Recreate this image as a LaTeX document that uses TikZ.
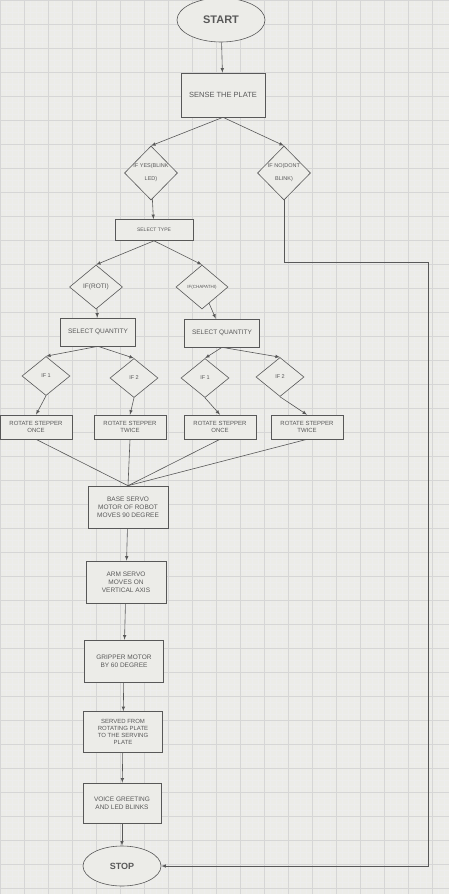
\documentclass[tikz,border=0pt]{standalone}
\usepackage{fontspec}
\setmainfont{Liberation Sans}
\usetikzlibrary{shapes.geometric}
\definecolor{paper}{RGB}{236,236,232}
\definecolor{ink}{RGB}{88,88,88}

\begin{document}
\begin{tikzpicture}[->,>=latex,x=1pt,y=-1pt,color=ink,line width=.6pt,
   box/.style={draw,fill=paper,align=center,inner sep=1pt,font=\fontsize{6}{7}\selectfont},
   dia/.style={draw,fill=paper,diamond,align=center,inner sep=-4pt,font=\fontsize{5.5}{13}\selectfont},
   term/.style={draw,fill=paper,ellipse,inner sep=0pt,font=\bfseries\fontsize{11}{12}\selectfont}]
   \useasboundingbox[fill=paper] (0,0) rectangle (449,894);
   \begin{scope}[y=1pt]
      \draw[-,gray!14,line width=.3pt,step=6] (0,-894) grid (449,0);
      \draw[-,gray!32,line width=.4pt,step=24] (0,-894) grid (449,0);
   \end{scope}
   \node[term,minimum width=88pt,minimum height=44pt] (start) at (221,20) {START};
   \node[box,minimum width=84pt,minimum height=44pt,font=\fontsize{7.5}{9}\selectfont] (sense) at (223,95) {SENSE THE PLATE};
   \node[dia,minimum width=53pt,minimum height=54pt] (yes) at (151,173) {IF YES(BLINK\\LED)};
   \node[dia,minimum width=53pt,minimum height=54pt] (no) at (284,173) {IF NO(DONT\\BLINK)};
   \node[box,minimum width=78pt,minimum height=21pt,font=\fontsize{5}{6}\selectfont] (type) at (154,230) {SELECT TYPE};
   \node[dia,minimum width=53pt,minimum height=44pt,font=\fontsize{6.5}{7}\selectfont] (roti) at (96,287) {IF(ROTI)};
   \node[dia,minimum width=52pt,minimum height=44pt,font=\fontsize{4.5}{5}\selectfont] (chapathi) at (202,287) {IF(CHAPATHI)};
   \node[box,minimum width=75pt,minimum height=28pt,font=\fontsize{6.5}{7}\selectfont] (qa) at (98,332) {SELECT QUANTITY};
   \node[box,minimum width=75pt,minimum height=28pt,font=\fontsize{6.5}{7}\selectfont] (qb) at (222,333) {SELECT QUANTITY};
   \node[dia,minimum width=48pt,minimum height=39pt] (qaone) at (46,376) {IF 1};
   \node[dia,minimum width=48pt,minimum height=39pt] (qatwo) at (134,378) {IF 2};
   \node[dia,minimum width=48pt,minimum height=39pt] (qbone) at (205,378) {IF 1};
   \node[dia,minimum width=48pt,minimum height=39pt] (qbtwo) at (280,377) {IF 2};
   \node[box,minimum width=72pt,minimum height=24pt] (ra) at (36,427) {ROTATE STEPPER\\ONCE};
   \node[box,minimum width=72pt,minimum height=24pt] (rb) at (130,427) {ROTATE STEPPER\\TWICE};
   \node[box,minimum width=72pt,minimum height=24pt] (rc) at (220,427) {ROTATE STEPPER\\ONCE};
   \node[box,minimum width=72pt,minimum height=24pt] (rd) at (307,427) {ROTATE STEPPER\\TWICE};
   \node[box,minimum width=80pt,minimum height=42pt,font=\fontsize{6.5}{8}\selectfont] (base) at (128,507) {BASE SERVO\\MOTOR OF ROBOT\\MOVES 90 DEGREE};
   \node[box,minimum width=80pt,minimum height=42pt,font=\fontsize{6.5}{8}\selectfont] (arm) at (126,582) {ARM SERVO\\MOVES ON\\VERTICAL AXIS};
   \node[box,minimum width=79pt,minimum height=42pt,font=\fontsize{6.5}{8}\selectfont] (grip) at (124,661) {GRIPPER MOTOR\\BY 60 DEGREE};
   \node[box,minimum width=79pt,minimum height=41pt,font=\fontsize{6}{6.8}\selectfont] (served) at (123,732) {SERVED FROM\\ROTATING PLATE\\TO THE SERVING\\PLATE};
   \node[box,minimum width=78pt,minimum height=40pt,font=\fontsize{6.5}{8}\selectfont] (voice) at (122,803) {VOICE GREETING\\AND LED BLINKS};
   \node[term,minimum width=78pt,minimum height=40pt,font=\bfseries\fontsize{9}{10}\selectfont] (stop) at (122,866) {STOP};
   \draw (start) -- (sense);
   \draw (sense.south) -- (yes.north);
   \draw (sense.south) -- (no.north);
   \draw (yes) -- (type);
   \draw (type.south) -- (roti.north);
   \draw (type.south) -- (chapathi.north);
   \draw (roti) -- (qa);
   \draw (chapathi) -- (qb);
   \draw (qa.south) -- (qaone.north);
   \draw (qa.south) -- (qatwo.north);
   \draw (qb.south) -- (qbone.north);
   \draw (qb.south) -- (qbtwo.north);
   \draw (qaone.south) -- (ra.north);
   \draw (qatwo.south) -- (rb.north);
   \draw (qbone.south) -- (rc.north);
   \draw (qbtwo.south) -- (rd.north);
   \foreach \r in {ra,rb,rc,rd}
      \draw[-] (\r.south) -- (base.north);
   \foreach \a/\b in {base/arm,arm/grip,grip/served,served/voice,voice/stop}
      \draw (\a) -- (\b);
   \draw (no.south) -- (284,262) -- (428,262) |- (stop.east);
\end{tikzpicture}
\end{document}
